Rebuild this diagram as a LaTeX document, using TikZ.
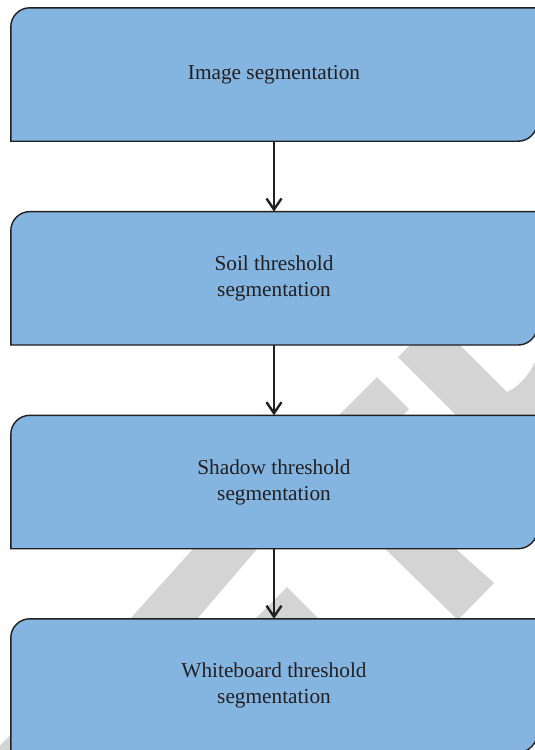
\documentclass[tikz,border=0pt]{standalone}
\usepackage{fontspec}
\setmainfont{Liberation Serif}
\usetikzlibrary{arrows.meta,calc}
\pgfdeclarelayer{background}
\pgfsetlayers{background,main}
\definecolor{boxblue}{HTML}{84B5E1}
\definecolor{ink}{HTML}{231F20}
\definecolor{wmgray}{HTML}{D4D4D4}
\newcommand\leafbox[1]{\draw[boxline] (#1.south west) -- ([yshift=-19pt]#1.north west) arc[start angle=180,end angle=90,radius=19pt] -- (#1.north east) -- ([yshift=19pt]#1.south east) arc[start angle=0,end angle=-90,radius=19pt] -- cycle;}
\begin{document}
\begin{tikzpicture}[x=1pt,y=-1pt,
  box/.style={minimum width=526pt,minimum height=133pt,inner sep=0pt,align=center,text=ink,font=\fontsize{21.3}{26}\selectfont},
  boxline/.style={draw=ink,line width=1.4pt,fill=boxblue},
  flow/.style={draw=ink,line width=2.4pt,-{Straight Barb[length=11pt,width=15pt]}},
  wm/.style={fill=wmgray}]
\useasboundingbox (0,0) rectangle (535,750);
\clip (0,0) rectangle (535,750);
\node[box] (b1) at (274,74.5) {Image segmentation};
\node[box] (b2) at (274,278.3) {Soil threshold\\segmentation};
\node[box] (b3) at (274,482) {Shadow threshold\\segmentation};
\node[box] (b4) at (274,685.5) {Whiteboard threshold\\segmentation};
\begin{pgfonlayer}{background}
  \fill[white] (0,0) rectangle (535,750);
  % watermark fragments
  \fill[wm] (420,335) -- (398,357) -- (460,419) -- (545,419) -- (545,362) -- (535,362)
    .. controls (528,377) and (518,387) .. (507,392) -- (450,335) -- cycle;
  \fill[wm] (377,377) -- (409,409) -- (401,417) -- (257,549) -- (197,619) -- (62,755)
    -- (-10,755) -- (130,619) -- (193,549) -- (339,415) -- cycle;
  \fill[wm] (287,587) -- (325,625) -- (249,625) -- cycle;
  \fill[wm] (376,540) -- (446,540) -- (494,583) -- (458,620) -- cycle;
  \leafbox{b1}
  \leafbox{b2}
  \leafbox{b3}
  \leafbox{b4}
\end{pgfonlayer}
\draw[flow] (b1.south) -- (b2.north);
\draw[flow] (b2.south) -- (b3.north);
\draw[flow] (b3.south) -- (b4.north);
\end{tikzpicture}
\end{document}
